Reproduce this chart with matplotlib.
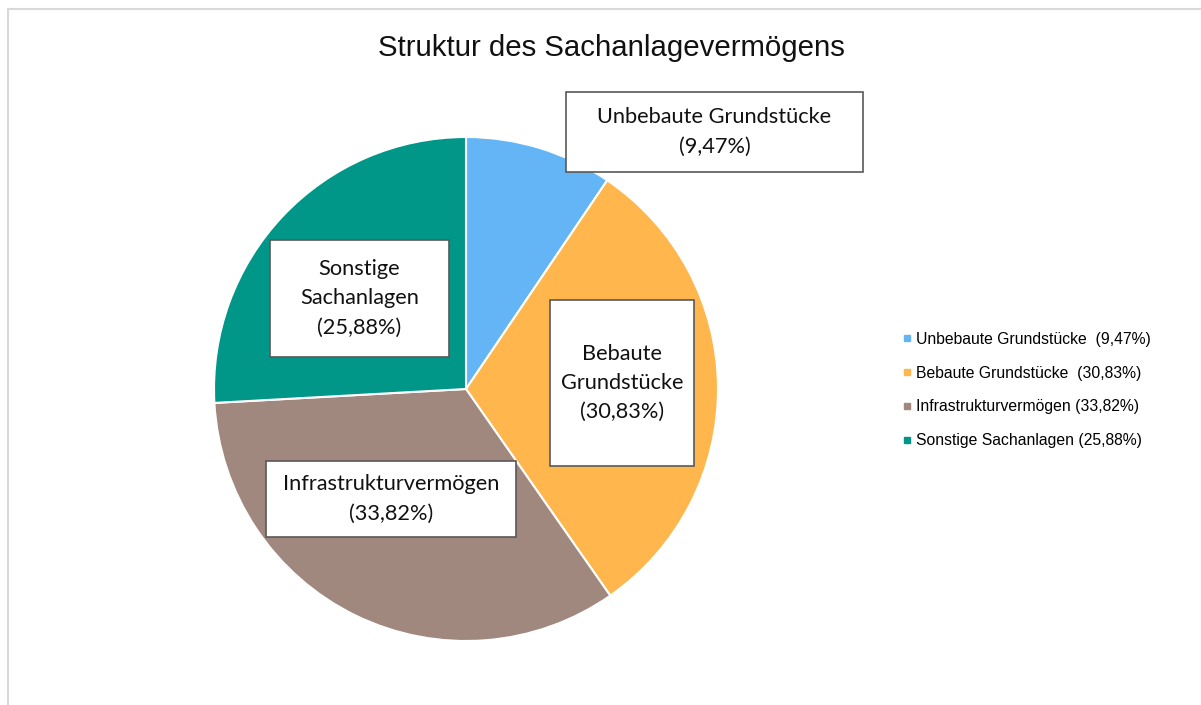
import matplotlib
matplotlib.use("Agg")
import matplotlib.pyplot as plt
from matplotlib.lines import Line2D
from matplotlib.patches import Rectangle

W, H = 1201, 705

categories = ["Unbebaute Grundstücke", "Bebaute Grundstücke",
              "Infrastrukturvermögen", "Sonstige Sachanlagen"]
shares = [9.47, 30.83, 33.82, 25.88]
slice_labels = ["Unbebaute Grundstücke\n(9,47%)", "Bebaute\nGrundstücke\n(30,83%)",
                "Infrastrukturvermögen\n(33,82%)", "Sonstige\nSachanlagen\n(25,88%)"]
legend_labels = ["Unbebaute Grundstücke  (9,47%)", "Bebaute Grundstücke  (30,83%)",
                 "Infrastrukturvermögen (33,82%)", "Sonstige Sachanlagen (25,88%)"]
colors = ["#64B5F6", "#FFB74D", "#A1887F", "#009688"]

# label boxes: center x, center y, width, height (pixels, from top-left)
boxes = [(714.5, 132, 297, 80), (622, 383, 144, 166),
         (391, 499, 250, 76), (359.5, 298.5, 179, 117)]

fig = plt.figure(figsize=(W / 100, H / 100), dpi=100)

# pie axes: center (466, 389), radius 252 px
cx, cy, r = 466, 389, 252
ax = fig.add_axes([(cx - r) / W, (H - cy - r) / H, 2 * r / W, 2 * r / H])
wedges, _ = ax.pie(shares, colors=colors, startangle=90, counterclock=False,
                   radius=1.0, wedgeprops=dict(edgecolor="white", linewidth=1.5))
ax.set_xlim(-1, 1)
ax.set_ylim(-1, 1)
ax.set_aspect("equal")
ax.axis("off")

for (bx, by, bw, bh), txt in zip(boxes, slice_labels):
    fig.patches.append(Rectangle(((bx - bw / 2) / W, (H - by - bh / 2) / H), bw / W, bh / H,
                                 transform=fig.transFigure, facecolor="white",
                                 edgecolor="#595959", linewidth=1.2, zorder=5))
    fig.text(bx / W, (H - by) / H, txt, ha="center", va="center", fontsize=15.7,
             family="Lato", color="#111111", linespacing=1.58, zorder=6)

fig.text(611 / W, (H - 48.5) / H, "Struktur des Sachanlagevermögens", ha="center",
         va="center", fontsize=21.2, family="Liberation Sans", color="#111111")

handles = [Line2D([], [], marker="s", linestyle="none", markersize=5,
                  markerfacecolor=c, markeredgecolor=c) for c in colors]
fig.legend(handles, legend_labels, loc="center left",
           bbox_to_anchor=(902 / W, (H - 390) / H), frameon=False,
           prop=dict(family="Liberation Sans", size=11.3), handlelength=0.6,
           handletextpad=0.3, labelspacing=1.2, borderpad=0, borderaxespad=0)

# light frame on top and left
fig.add_artist(Line2D([8 / W, 1], [(H - 9) / H] * 2, color="#d9d9d9", linewidth=1.5,
                      transform=fig.transFigure))
fig.add_artist(Line2D([8 / W] * 2, [0, (H - 9) / H], color="#d9d9d9", linewidth=1.5,
                      transform=fig.transFigure))

fig.savefig("out.png", dpi=100, facecolor="white")
